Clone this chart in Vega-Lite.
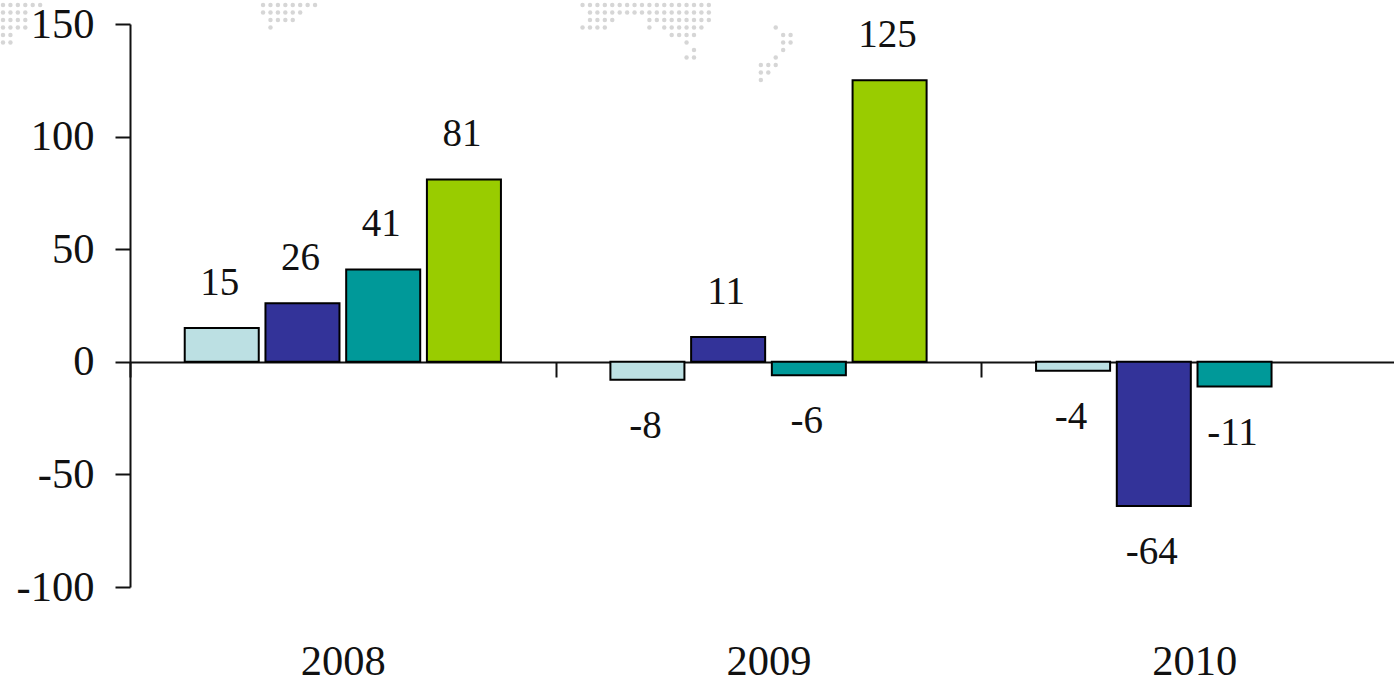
{"$schema":"https://vega.github.io/schema/vega-lite/v6.json","width":1264,"height":563,"autosize":{"type":"none"},"padding":{"left":130,"top":24,"right":0,"bottom":93},"background":"white","config":{"view":{"stroke":null},"font":"Liberation Serif"},"resolve":{"scale":{"x":"independent","y":"independent"}},"layer":[{"data":{"values":[{"c":0,"r":0},{"c":1,"r":0},{"c":2,"r":0},{"c":3,"r":0},{"c":4,"r":0},{"c":5,"r":0},{"c":0,"r":1},{"c":1,"r":1},{"c":2,"r":1},{"c":3,"r":1},{"c":0,"r":2},{"c":1,"r":2},{"c":2,"r":2},{"c":3,"r":2},{"c":0,"r":3},{"c":1,"r":3},{"c":2,"r":3},{"c":3,"r":3},{"c":0,"r":4},{"c":1,"r":4},{"c":0,"r":5},{"c":1,"r":5},{"c":35,"r":0},{"c":36,"r":0},{"c":37,"r":0},{"c":38,"r":0},{"c":39,"r":0},{"c":40,"r":0},{"c":41,"r":0},{"c":42,"r":0},{"c":35,"r":1},{"c":36,"r":1},{"c":37,"r":1},{"c":38,"r":1},{"c":39,"r":1},{"c":40,"r":1},{"c":36,"r":2},{"c":37,"r":2},{"c":38,"r":2},{"c":39,"r":2},{"c":36,"r":3},{"c":78,"r":-1},{"c":79,"r":-1},{"c":80,"r":-1},{"c":81,"r":-1},{"c":82,"r":-1},{"c":83,"r":-1},{"c":84,"r":-1},{"c":85,"r":-1},{"c":86,"r":-1},{"c":87,"r":-1},{"c":88,"r":-1},{"c":89,"r":-1},{"c":90,"r":-1},{"c":91,"r":-1},{"c":92,"r":-1},{"c":93,"r":-1},{"c":94,"r":-1},{"c":95,"r":-1},{"c":78,"r":0},{"c":79,"r":0},{"c":80,"r":0},{"c":81,"r":0},{"c":82,"r":0},{"c":83,"r":0},{"c":84,"r":0},{"c":85,"r":0},{"c":86,"r":0},{"c":87,"r":0},{"c":88,"r":0},{"c":89,"r":0},{"c":90,"r":0},{"c":91,"r":0},{"c":92,"r":0},{"c":93,"r":0},{"c":94,"r":0},{"c":95,"r":0},{"c":79,"r":1},{"c":80,"r":1},{"c":81,"r":1},{"c":82,"r":1},{"c":83,"r":1},{"c":84,"r":1},{"c":85,"r":1},{"c":86,"r":1},{"c":87,"r":1},{"c":88,"r":1},{"c":89,"r":1},{"c":90,"r":1},{"c":91,"r":1},{"c":92,"r":1},{"c":93,"r":1},{"c":94,"r":1},{"c":95,"r":1},{"c":79,"r":2},{"c":80,"r":2},{"c":81,"r":2},{"c":82,"r":2},{"c":87,"r":2},{"c":88,"r":2},{"c":89,"r":2},{"c":90,"r":2},{"c":91,"r":2},{"c":92,"r":2},{"c":93,"r":2},{"c":94,"r":2},{"c":95,"r":2},{"c":78,"r":3},{"c":79,"r":3},{"c":80,"r":3},{"c":81,"r":3},{"c":87,"r":3},{"c":89,"r":3},{"c":90,"r":3},{"c":91,"r":3},{"c":92,"r":3},{"c":93,"r":3},{"c":94,"r":3},{"c":90,"r":4},{"c":91,"r":4},{"c":92,"r":4},{"c":93,"r":4},{"c":92,"r":5},{"c":93,"r":6},{"c":92,"r":7},{"c":93,"r":7},{"c":104,"r":3},{"c":105,"r":4},{"c":106,"r":4},{"c":105,"r":5},{"c":106,"r":5},{"c":105,"r":6},{"c":104,"r":7},{"c":102,"r":8},{"c":103,"r":8},{"c":104,"r":8},{"c":102,"r":9},{"c":103,"r":9},{"c":102,"r":10}]},"mark":{"type":"point","filled":true,"shape":"circle","size":20,"color":"#D6D6D6","opacity":1,"clip":false},"encoding":{"x":{"field":"c","type":"quantitative","axis":null,"scale":{"domain":[0,100],"range":[-127,616],"nice":false,"zero":false}},"y":{"field":"r","type":"quantitative","axis":null,"scale":{"domain":[-1,10],"range":[-26.5,56],"nice":false,"zero":false}}}},{"data":{"values":[{"year":"2008","series":"A","value":15},{"year":"2008","series":"B","value":26},{"year":"2008","series":"C","value":41},{"year":"2008","series":"D","value":81},{"year":"2009","series":"A","value":-8},{"year":"2009","series":"B","value":11},{"year":"2009","series":"C","value":-6},{"year":"2009","series":"D","value":125},{"year":"2010","series":"A","value":-4},{"year":"2010","series":"B","value":-64},{"year":"2010","series":"C","value":-11}]},"encoding":{"x":{"field":"year","type":"nominal","scale":{"range":[0,1277],"paddingInner":0,"paddingOuter":0},"axis":{"title":null,"labelAngle":0,"labelFontSize":42.5,"labelColor":"#111111","labelFont":"Liberation Serif","labelPadding":263,"tickBand":"extent","tickSize":15,"tickColor":"#111111","tickWidth":2,"domainColor":"#111111","domainWidth":2,"offset":-225,"grid":false,"labelBaseline":"top"}},"xOffset":{"field":"series","type":"nominal","scale":{"domain":["A","B","C","D"],"paddingInner":0.083,"paddingOuter":0.678}},"y":{"field":"value","type":"quantitative","scale":{"domain":[-100,150],"nice":false},"axis":{"title":null,"values":[-100,-50,0,50,100,150],"labelExpr":"datum.value+''","labelFontSize":42.5,"labelColor":"#111111","labelFont":"Liberation Serif","labelPadding":21,"tickSize":15,"tickColor":"#111111","tickWidth":2,"domainColor":"#111111","domainWidth":2,"grid":false}}},"layer":[{"mark":{"type":"bar","stroke":"#000000","strokeWidth":2},"encoding":{"color":{"field":"series","type":"nominal","legend":null,"scale":{"domain":["A","B","C","D"],"range":["#BCE0E3","#333399","#009999","#99CC00"]}},"y2":{"datum":0}}},{"transform":[{"filter":"datum.value>=0"}],"mark":{"type":"text","fontSize":39,"dy":-45,"dx":-2,"color":"#111111","baseline":"middle"},"encoding":{"text":{"field":"value","type":"nominal"}}},{"transform":[{"filter":"datum.value<0"}],"mark":{"type":"text","fontSize":39,"dy":46,"dx":-2,"color":"#111111","baseline":"middle"},"encoding":{"text":{"field":"value","type":"nominal"}}}]}]}
